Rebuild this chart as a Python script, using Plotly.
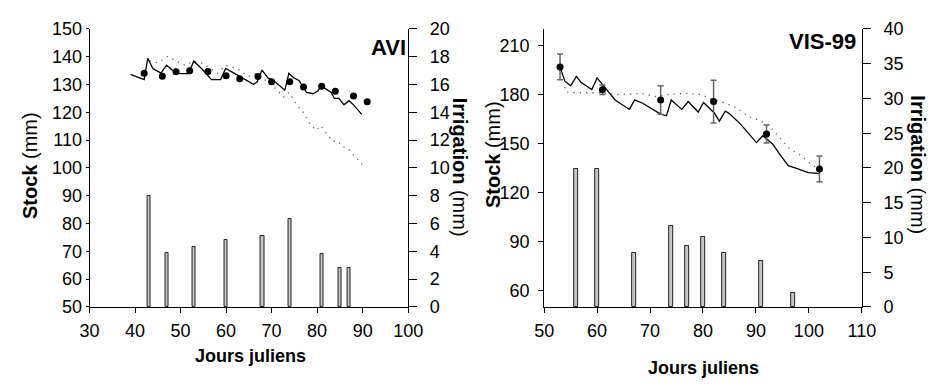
import plotly.graph_objects as go

# ---------------- Data: AVI panel ----------------
avi_sim_days = [39, 42, 42.8, 43.9, 45.7, 46.9, 48.2, 49.9, 51.7, 52.9, 54.6, 56.8, 58.8, 59.9,
                62.4, 66.0, 66.8, 67.9, 69.2, 70.6, 72.9, 73.8, 74.9, 76.0, 77.7, 79.1, 80.2,
                80.9, 83.1, 83.8, 84.8, 85.9, 87.0, 88.0, 89.8]
avi_sim_stock = [133.7, 131.8, 139.5, 135.8, 134.1, 137.0, 135.2, 133.9, 133.9, 138.4, 135.8,
                 131.8, 131.8, 135.8, 133.5, 130.1, 130.9, 135.2, 132.4, 131.2, 128.0, 134.1,
                 132.4, 131.5, 127.2, 126.7, 127.8, 129.5, 127.2, 125.0, 125.0, 122.7, 124.2,
                 122.7, 119.3]
avi_dot_days = [43.2, 45.0, 47.1, 49.6, 51.0, 52.8, 54.6, 58.1, 59.9, 62.4, 64.9, 66.7, 70.6,
                72.7, 73.8, 74.9, 75.8, 77.0, 77.7, 78.6, 79.9, 80.8, 82.3, 83.4, 84.6, 85.6,
                86.8, 87.8, 89.0, 90.2]
avi_dot_stock = [138.6, 137.8, 140.0, 138.1, 136.9, 138.4, 137.8, 134.1, 136.9, 135.8, 132.9,
                 134.1, 128.9, 125.5, 127.2, 124.4, 122.1, 119.9, 117.9, 115.3, 113.6, 115.3,
                 111.9, 109.6, 109.6, 107.6, 107.1, 105.0, 103.0, 100.5]
avi_obs_days = [42, 46, 49, 52, 56, 60, 63, 67, 70, 74, 77, 81, 84, 88, 91]
avi_obs_stock = [134.1, 133.0, 134.6, 135.0, 134.7, 133.2, 132.1, 132.9, 131.0, 131.0, 129.1,
                 129.4, 127.6, 125.9, 123.8]
avi_irr_days = [43, 47, 53, 60, 68, 74, 81, 85, 87]
avi_irr_mm = [8.0, 3.9, 4.35, 4.83, 5.14, 6.35, 3.8, 2.82, 2.82]

# ---------------- Data: VIS-99 panel ----------------
vis_sim_days = [53.0, 53.9, 55.0, 56.1, 57.0, 59.0, 60.0, 61.2, 63.4, 66.1, 67.1, 68.6, 72.0,
                73.1, 74.0, 76.0, 77.2, 79.1, 80.1, 82.1, 83.1, 84.2, 84.9, 87.0, 90.1, 91.3,
                93.2, 94.4, 96.1, 97.8, 99.9, 102.1]
vis_sim_stock = [196.8, 188.1, 185.2, 191.0, 187.2, 182.9, 190.1, 185.2, 176.6, 170.8, 176.6,
                 174.6, 167.9, 166.9, 176.6, 170.8, 175.6, 169.2, 175.0, 168.8, 163.6, 169.8,
                 168.4, 162.1, 150.5, 154.7, 149.5, 143.7, 136.4, 134.6, 132.1, 131.5]
vis_dot_days = [53.9, 54.2, 56.3, 60.7, 64.4, 68.3, 71.1, 73.9, 76.9, 79.7, 80.9, 84.3, 86.4,
                88.6, 90.7, 92.3, 94.1, 96.3, 98.4, 100.5, 101.8]
vis_dot_stock = [184.5, 181.2, 181.0, 181.0, 179.8, 180.6, 178.7, 180.0, 180.6, 179.9, 177.9,
                 174.6, 171.7, 166.5, 164.0, 161.5, 154.9, 147.0, 142.8, 137.0, 134.6]
vis_obs_days = [53, 61, 72, 82, 92, 102]
vis_obs_stock = [196.8, 182.9, 176.6, 175.6, 155.7, 134.4]
vis_obs_err = [7.9, 2.9, 8.7, 13.1, 5.5, 7.9]
vis_irr_days = [56, 60, 67, 74, 77, 80, 84, 91, 97]
vis_irr_mm = [19.8, 19.8, 7.8, 11.65, 8.83, 10.0, 7.8, 6.6, 2.05]

FONT = "Liberation Sans, Arial, sans-serif"
W, H = 944, 390

fig = go.Figure()

def add_panel(xa, ya, ya2, sim_d, sim_s, dot_d, dot_s, obs_d, obs_s, irr_d, irr_v, err=None):
    fig.add_trace(go.Bar(x=irr_d, y=irr_v, width=0.7, xaxis=xa, yaxis=ya2,
                         marker=dict(color="#c4c4c4", line=dict(color="#222222", width=1)),
                         showlegend=False))
    fig.add_trace(go.Scatter(x=dot_d, y=dot_s, mode="lines", xaxis=xa, yaxis=ya,
                             line=dict(color="#666666", width=1.3, dash="1.3px,5px"),
                             showlegend=False))
    fig.add_trace(go.Scatter(x=sim_d, y=sim_s, mode="lines", xaxis=xa, yaxis=ya,
                             line=dict(color="black", width=1.3), showlegend=False))
    ekw = {}
    if err is not None:
        ekw["error_y"] = dict(type="data", array=err, visible=True, color="#666666",
                              thickness=1.5, width=3)
    fig.add_trace(go.Scatter(x=obs_d, y=obs_s, mode="markers", xaxis=xa, yaxis=ya,
                             marker=dict(color="black", size=7), showlegend=False, **ekw))

add_panel("x", "y", "y2", avi_sim_days, avi_sim_stock, avi_dot_days, avi_dot_stock,
          avi_obs_days, avi_obs_stock, avi_irr_days, avi_irr_mm)
add_panel("x2", "y3", "y4", vis_sim_days, vis_sim_stock, vis_dot_days, vis_dot_stock,
          vis_obs_days, vis_obs_stock, vis_irr_days, vis_irr_mm, err=vis_obs_err)

ydom = [1 - 313 / H, 1 - 20 / H]
tickf = dict(family=FONT, size=18, color="black")
common = dict(showline=True, linecolor="black", linewidth=1, ticks="outside",
              tickcolor="black", tickfont=tickf, showgrid=False, zeroline=False)

fig.update_layout(
    width=W, height=H, margin=dict(l=0, r=0, t=0, b=0),
    paper_bgcolor="white", plot_bgcolor="white", bargap=0,
    xaxis=dict(domain=[81.7 / W, 409 / W], range=[30, 100], dtick=10, ticklen=5,
               ticklabelstandoff=2, anchor="y", **common),
    yaxis=dict(domain=ydom, range=[50, 150], dtick=10, ticklen=3, anchor="x", **common),
    yaxis2=dict(range=[0, 20], dtick=2, overlaying="y", side="right", anchor="x",
                ticklen=8, ticklabelstandoff=9, **common),
    xaxis2=dict(domain=[548.7 / W, 875 / W], range=[50, 110], dtick=10, ticklen=5,
                ticklabelstandoff=2, anchor="y3", **common),
    yaxis3=dict(domain=ydom, range=[50, 220], tick0=60, dtick=30, ticklen=5,
                ticklabelstandoff=5, anchor="x2", **common),
    yaxis4=dict(range=[0, 40], dtick=5, overlaying="y3", side="right", anchor="x2",
                ticklen=8, ticklabelstandoff=9, **common),
)

def ann(text, px, py, size=18, angle=0, xanchor="center"):
    fig.add_annotation(text=text, x=px / W, y=1 - py / H, xref="paper", yref="paper",
                       showarrow=False, textangle=angle, xanchor=xanchor, yanchor="middle",
                       font=dict(family=FONT, size=size, color="black"))

ann("<b>Stock</b> (mm)", 20, 164, size=20, angle=-90)
ann("<b>Irrigation</b> (mm)", 462, 166, size=20, angle=90)
ann("<b>Jours juliens</b>", 246.7, 365)
ann("<b>AVI</b>", 409, 40, size=22, xanchor="right")

ann("<b>Stock</b> (mm)", 496, 152, size=20, angle=-90)
ann("<b>Irrigation</b> (mm)", 933, 163, size=20, angle=90)
ann("<b>Jours juliens</b>", 712, 377)
ann("<b>VIS-99</b>", 871, 33, size=22, xanchor="right")

fig.write_html("out.html")
